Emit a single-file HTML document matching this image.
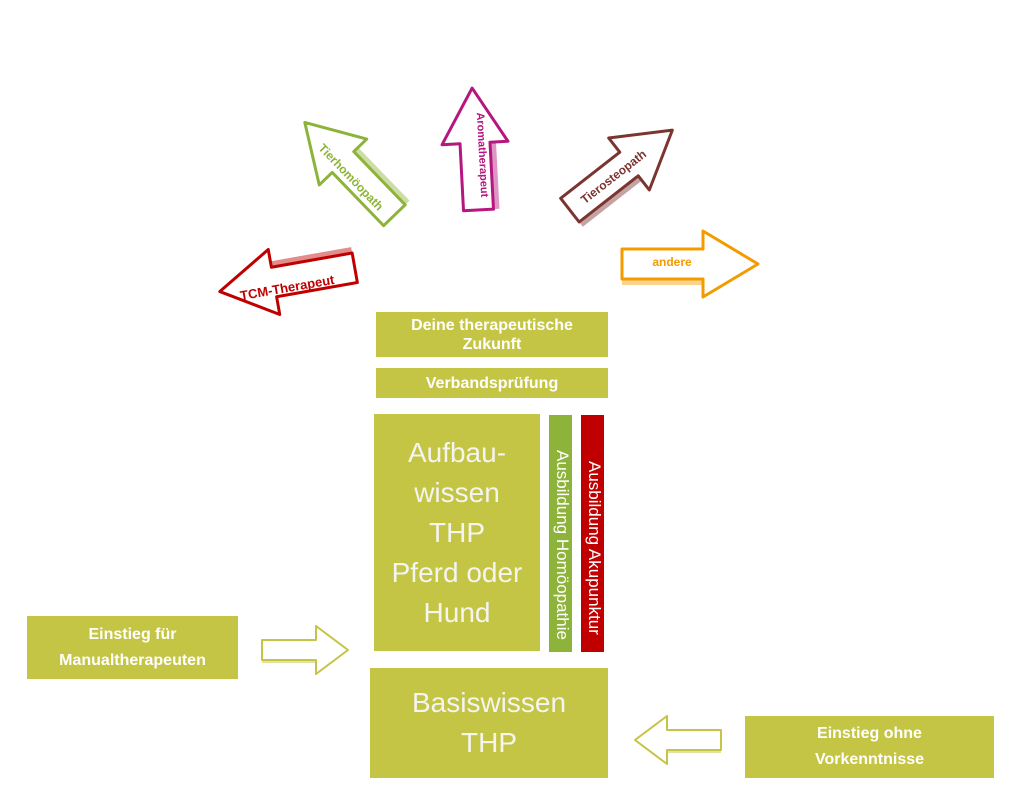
<!DOCTYPE html>
<html><head><meta charset="utf-8"><style>
body{margin:0;width:1019px;height:795px;background:#fff;position:relative;overflow:hidden;font-family:"Liberation Sans",sans-serif}
.b{position:absolute;background:#c5c545;color:#fff;display:flex;align-items:center;justify-content:center;text-align:center}
.s{font-weight:bold;font-size:16px;line-height:19px}
.l{font-size:28px;line-height:40px;color:#f4f4f0}
.v{position:absolute;color:#fff;font-size:17px;writing-mode:vertical-rl;display:flex;align-items:flex-start;justify-content:center;padding-top:22px;box-sizing:border-box}
svg{position:absolute;left:0;top:0}
</style></head><body>
<svg width="1019" height="795">
<g fill="#fff" stroke-width="3" stroke-linejoin="round">
 <g transform="translate(274,282) rotate(170)" stroke="#c00000"><polygon points="-82,15 0,15 0,21 -82,21" fill="#c00000" opacity=".45" stroke="none"/><polygon points="-82,-15 0,-15 0,-33 55,0 0,33 0,15 -82,15"/></g>
 <g transform="translate(343,162) rotate(226)" stroke="#8db33a"><polygon points="-74,15 0,15 0,21 -74,21" fill="#8db33a" opacity=".45" stroke="none"/><polygon points="-74,-15 0,-15 0,-33 55,0 0,33 0,15 -74,15"/></g>
 <g transform="translate(475,143) rotate(-93)" stroke="#b5177e"><polygon points="-67,15 0,15 0,21 -67,21" fill="#b5177e" opacity=".45" stroke="none"/><polygon points="-67,-15 0,-15 0,-33 55,0 0,33 0,15 -67,15"/></g>
 <g transform="translate(629,164) rotate(-38)" stroke="#7b3530"><polygon points="-75,15 0,15 0,21 -75,21" fill="#7b3530" opacity=".45" stroke="none"/><polygon points="-75,-15 0,-15 0,-33 55,0 0,33 0,15 -75,15"/></g>
 <g transform="translate(703,264)" stroke="#f29c00"><polygon points="-81,15 0,15 0,21 -81,21" fill="#f29c00" opacity=".45" stroke="none"/><polygon points="-81,-15 0,-15 0,-33 55,0 0,33 0,15 -81,15"/></g>
 <g transform="translate(316,650)" stroke="#c5c545" stroke-width="2"><polygon points="-54,8 0,8 0,13 -54,13" fill="#c5c545" opacity=".5" stroke="none"/><polygon points="-54,-10 0,-10 0,-24 32,0 0,24 0,10 -54,10"/></g>
 <g transform="translate(667,740) rotate(180)" stroke="#c5c545" stroke-width="2"><polygon points="-54,-8 0,-8 0,-13 -54,-13" fill="#c5c545" opacity=".5" stroke="none"/><polygon points="-54,-10 0,-10 0,-24 32,0 0,24 0,10 -54,10"/></g>
</g>
<g font-family="Liberation Sans,sans-serif" font-weight="bold" font-size="12" text-anchor="middle">
 <text transform="translate(288,292) rotate(-10)" fill="#c00000" font-size="13">TCM-Therapeut</text>
 <text transform="translate(348,180) rotate(46)" fill="#8db33a">Tierhomöopath</text>
 <text transform="translate(479,155) rotate(87)" fill="#b5177e" font-size="11">Aromatherapeut</text>
 <text transform="translate(616,180) rotate(-38)" fill="#7b3530">Tierosteopath</text>
 <text x="672" y="266" fill="#f29c00">andere</text>
</g>
</svg>
<div class="b s" style="left:376px;top:312px;width:232px;height:45px">Deine therapeutische<br>Zukunft</div>
<div class="b s" style="left:376px;top:368px;width:232px;height:30px">Verbandsprüfung</div>
<div class="b l" style="left:374px;top:414px;width:166px;height:237px">Aufbau-<br>wissen<br>THP<br>Pferd oder<br>Hund</div>
<div class="v" style="left:549px;top:415px;width:23px;height:237px;background:#8db33a">Ausbildung Homöopathie</div>
<div class="v" style="left:581px;top:415px;width:23px;height:237px;background:#c00000;padding-top:28px">Ausbildung Akupunktur</div>
<div class="b l" style="left:370px;top:668px;width:238px;height:110px">Basiswissen<br>THP</div>
<div class="b s" style="left:27px;top:616px;width:211px;height:63px;line-height:26px">Einstieg für<br>Manualtherapeuten</div>
<div class="b s" style="left:745px;top:716px;width:249px;height:62px;line-height:26px">Einstieg ohne<br>Vorkenntnisse</div>
</body></html>
